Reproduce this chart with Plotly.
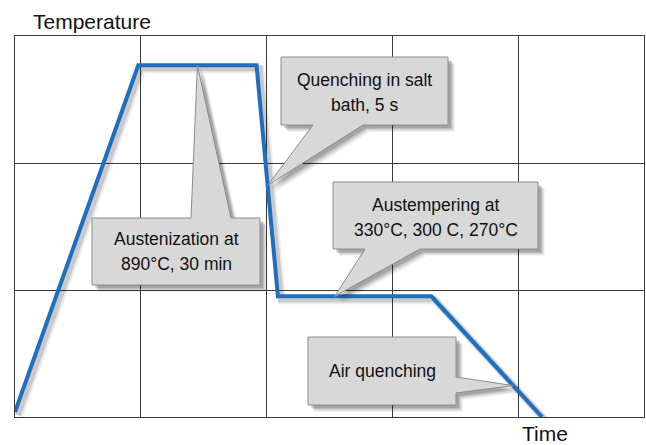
import plotly.graph_objects as go

# ---- data (axis units: 5 time divisions x 3 temperature divisions) ----
time_pts = [0.0, 0.98, 1.92, 2.09, 3.31, 4.19]
temp_pts = [0.04, 2.77, 2.77, 0.95, 0.95, 0.0]

x_label = "Time"
y_label = "Temperature"

callout_texts = [
    ["Austenization at", "890°C, 30 min"],
    ["Quenching in salt", "bath, 5 s"],
    ["Austempering at", "330°C, 300 C, 270°C"],
    ["Air quenching"],
]
callout_segment = [2, 3, 4, 5]          # curve segment (end-point index) the callout points to
callout_frac = [0.5, 0.52, 0.37, 0.74]  # position along that segment

# ---- layout helpers (pixel geometry of the plot area) ----
W, H = 646, 445
PL, PR, PT, PB = 15, 644, 36, 417
XMAX, YMAX = 5, 3

def dx(px):
    return (px - PL) / ((PR - PL) / XMAX)

def dy(py):
    return (PB - py) / ((PB - PT) / YMAX)

def paper_x(px):
    return (px - PL) / (PR - PL)

def paper_y(py):
    return (PB - py) / (PB - PT)

# callout boxes in pixels: left, top, right, bottom ; pointer side and base span
boxes = [
    (92, 218, 260, 285, "top", 191, 231),
    (281, 57, 448, 125, "bottom", 313, 363),
    (333, 182, 538, 249, "bottom", 365, 420),
    (308, 337, 456, 405, "right", 377, 393),
]
text_centers = [[239, 264], [80, 105], [205, 230], [371]]

fig = go.Figure()

# line shadow (derived from data, small offset)
for off, w, op in [(4, 8, 0.08), (3, 6, 0.14)]:
    fig.add_trace(go.Scatter(
        x=[t + dx(PL + off) for t in time_pts],
        y=[v - (off / ((PB - PT) / YMAX)) for v in temp_pts],
        mode="lines", line=dict(color=f"rgba(0,0,0,{op})", width=w),
        hoverinfo="skip", showlegend=False, cliponaxis=False))
fig.add_trace(go.Scatter(
    x=time_pts, y=temp_pts, mode="lines",
    line=dict(color="#1f6fc0", width=4),
    hoverinfo="skip", showlegend=False, cliponaxis=False))

shapes = []

def callout_path(box, tip, off=0):
    l, t, r, b, side, a1, a2 = box
    l, t, r, b = l + off, t + off, r + off, b + off
    a1o, a2o = a1 + off, a2 + off
    tx, ty = tip[0] + off, tip[1] + off
    if side == "top":
        pts = [(l, t), (a1o, t), (tx, ty), (a2o, t), (r, t), (r, b), (l, b)]
    elif side == "bottom":
        pts = [(l, t), (r, t), (r, b), (a2o, b), (tx, ty), (a1o, b), (l, b)]
    else:  # right
        pts = [(l, t), (r, t), (r, a1o), (tx, ty), (r, a2o), (r, b), (l, b)]
    return "M " + " L ".join(f"{dx(px):.4f},{dy(py):.4f}" for px, py in pts) + " Z"

def px_of(xv, yv):
    return (PL + xv * (PR - PL) / XMAX, PB - yv * (PB - PT) / YMAX)

for i, box in enumerate(boxes):
    k = callout_segment[i]
    f = callout_frac[i]
    xv = time_pts[k - 1] + f * (time_pts[k] - time_pts[k - 1])
    yv = temp_pts[k - 1] + f * (temp_pts[k] - temp_pts[k - 1])
    tip = px_of(xv, yv)
    for off, op in [(7, 0.05), (6, 0.06), (5, 0.08), (4, 0.10), (3, 0.12)]:
        shapes.append(dict(type="path", path=callout_path(box, tip, off),
                           xref="x", yref="y", fillcolor=f"rgba(0,0,0,{op})",
                           line=dict(width=0)))
    shapes.append(dict(type="path", path=callout_path(box, tip),
                       xref="x", yref="y", fillcolor="#d8d8d8",
                       line=dict(color="#8c8c8c", width=1)))

FONT = "Liberation Sans, Arial, sans-serif"
annotations = []
for i, lines in enumerate(callout_texts):
    l, t, r, b = boxes[i][:4]
    cx = (l + r) / 2
    for j, txt in enumerate(lines):
        annotations.append(dict(
            x=paper_x(cx), y=paper_y(text_centers[i][j]), xref="paper", yref="paper",
            text=txt, showarrow=False, xanchor="center", yanchor="middle",
            font=dict(family=FONT, size=17.5, color="#111")))

annotations.append(dict(x=paper_x(31), y=paper_y(21), xref="paper", yref="paper",
                        text=y_label, showarrow=False, xanchor="left", yanchor="middle",
                        font=dict(family=FONT, size=21, color="#111")))
annotations.append(dict(x=paper_x(545), y=paper_y(433), xref="paper", yref="paper",
                        text=x_label, showarrow=False, xanchor="center", yanchor="middle",
                        font=dict(family=FONT, size=21, color="#111")))

axis_common = dict(showgrid=True, gridcolor="#3a3a3a", gridwidth=1,
                   showline=True, linecolor="#3a3a3a", linewidth=1, mirror=True,
                   zeroline=False, showticklabels=False, ticks="", dtick=1)

fig.update_layout(
    width=W, height=H,
    margin=dict(l=PL, r=W - PR, t=PT, b=H - PB),
    paper_bgcolor="white", plot_bgcolor="white",
    xaxis=dict(range=[0, XMAX], fixedrange=True, **axis_common),
    yaxis=dict(range=[0, YMAX], fixedrange=True, **axis_common),
    shapes=shapes, annotations=annotations,
)

fig.write_html("out.html", config={"displayModeBar": False},
               post_script="document.body.style.margin='0';")
